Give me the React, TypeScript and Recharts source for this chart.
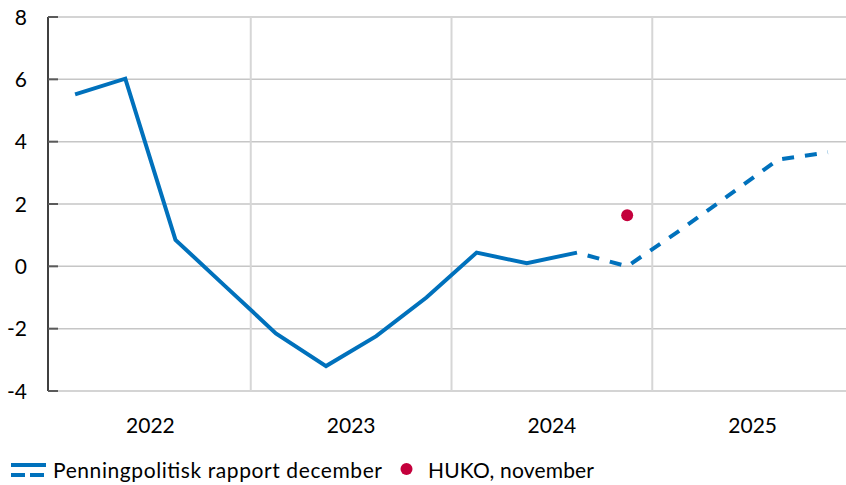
import React from 'react';
import {
  ComposedChart,
  Line,
  Scatter,
  XAxis,
  YAxis,
  CartesianGrid,
  ReferenceLine,
} from 'recharts';

const quarters = [
  '2022K1', '2022K2', '2022K3', '2022K4',
  '2023K1', '2023K2', '2023K3', '2023K4',
  '2024K1', '2024K2', '2024K3', '2024K4',
  '2025K1', '2025K2', '2025K3', '2025K4',
];
const actualValues = [5.52, 6.02, 0.85, -0.65, -2.15, -3.2, -2.24, -1.0, 0.44, 0.1, 0.44, null, null, null, null, null];
const forecastValues = [null, null, null, null, null, null, null, null, null, null, 0.44, 0.0, 1.1, 2.25, 3.42, 3.66];
const hukoValues = [null, null, null, null, null, null, null, null, null, null, null, 1.64, null, null, null, null];
const yearLabels = ['2022', '2023', '2024', '2025'];
const yTicks = [-4, -2, 0, 2, 4, 6, 8];
const seriesNames = ['Penningpolitisk rapport december', 'HUKO, november'];

const BLUE = '#0071bc';
const RED = '#c4003c';
const FONT = 'Lato, "Noto Sans", sans-serif';
const Y_TICK_MARGIN = 21;

const data = quarters.map((q, i) => ({
  i,
  q,
  actual: actualValues[i],
  forecast: forecastValues[i],
}));
const hukoData = quarters
  .map((q, i) => ({ i, q, huko: hukoValues[i] }))
  .filter((d) => d.huko !== null);

const yearTicks = yearLabels.map((_, k) => k * 4 + 1.5);
const yearBoundaries = yearLabels.slice(1).map((_, k) => (k + 1) * 4 - 0.5);

const YTick = (props: any) => {
  const { x, y, payload } = props;
  const axisX = x + Y_TICK_MARGIN;
  return (
    <g>
      <line x1={axisX} x2={axisX + 10} y1={y} y2={y} stroke="#5a5a5a" strokeWidth={2} />
      <text x={x} y={y} dy="0.36em" textAnchor="end" fill="#000" fontSize={21} fontFamily={FONT}>
        {payload.value}
      </text>
    </g>
  );
};

const RightTick = (props: any) => {
  const { x, y } = props;
  return <line x1={x - 4} x2={x} y1={y} y2={y} stroke="#5a5a5a" strokeWidth={2} />;
};

const Dot = (props: any) => {
  const { cx, cy } = props;
  return <circle cx={cx} cy={cy} r={6} fill={RED} />;
};

export default function App() {
  return (
    <div style={{ position: 'absolute', left: 0, top: 0, width: 846, height: 485, background: '#fff' }}>
      <ComposedChart
        width={846}
        height={485}
        data={data}
        margin={{ top: 17, right: 0, left: 0, bottom: 54 }}
      >
        <CartesianGrid vertical={false} stroke="#c6c6c6" strokeWidth={1.5} />
        {yearBoundaries.map((b) => (
          <ReferenceLine key={b} x={b} stroke="#d6d6d6" strokeWidth={2} />
        ))}
        <XAxis
          type="number"
          dataKey="i"
          domain={[-0.54, 15.36]}
          allowDataOverflow
          ticks={yearTicks}
          tickFormatter={(v: number) => yearLabels[Math.floor(v / 4)]}
          axisLine={false}
          tickLine={false}
          tickSize={0}
          tickMargin={27}
          height={40}
          tick={{ fill: '#000', fontSize: 21, fontFamily: FONT }}
        />
        <YAxis
          type="number"
          domain={[-4, 8]}
          ticks={yTicks}
          width={48}
          axisLine={{ stroke: '#000', strokeWidth: 1.5 }}
          tickLine={false}
          tickSize={0}
          tickMargin={Y_TICK_MARGIN}
          tick={<YTick />}
        />
        <YAxis
          yAxisId="right"
          orientation="right"
          type="number"
          domain={[-4, 8]}
          ticks={yTicks}
          width={0}
          axisLine={false}
          tickLine={false}
          tickSize={0}
          tickMargin={0}
          tick={<RightTick />}
        />
        <Line
          dataKey="actual"
          stroke={BLUE}
          strokeWidth={4}
          dot={false}
          activeDot={false}
          isAnimationActive={false}
        />
        <Line
          dataKey="forecast"
          stroke={BLUE}
          strokeWidth={4}
          strokeDasharray="12 11"
          strokeDashoffset={12}
          dot={false}
          activeDot={false}
          isAnimationActive={false}
        />
        <Scatter data={hukoData} dataKey="huko" shape={<Dot />} isAnimationActive={false} />
      </ComposedChart>
      <svg
        width={846}
        height={40}
        style={{ position: 'absolute', left: 0, top: 445 }}
      >
        <line x1={11} x2={46} y1={20} y2={20} stroke={BLUE} strokeWidth={4} />
        <line x1={11} x2={46} y1={30} y2={30} stroke={BLUE} strokeWidth={4} strokeDasharray="14 5" />
        <text x={53} y={33} fontSize={21} fontFamily={FONT} fill="#000" textLength={329} lengthAdjust="spacing">
          {seriesNames[0]}
        </text>
        <circle cx={406.5} cy={24} r={6} fill={RED} />
        <text x={428} y={33} fontSize={21} fontFamily={FONT} fill="#000" textLength={166} lengthAdjust="spacing">
          {seriesNames[1]}
        </text>
      </svg>
    </div>
  );
}
